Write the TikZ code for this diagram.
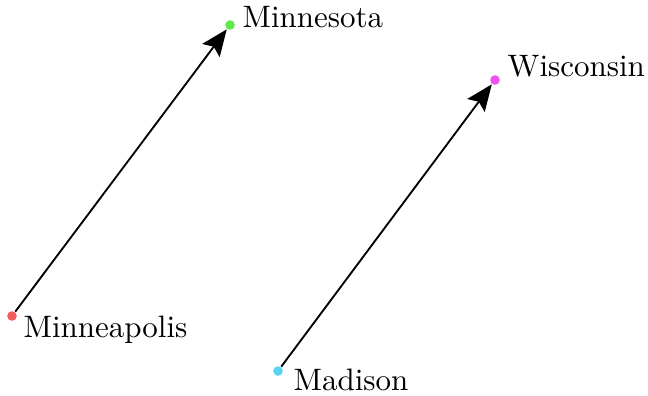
\documentclass[tikz,border=0pt]{standalone}
\usetikzlibrary{arrows.meta}
\definecolor{cred}{RGB}{242,92,92}
\definecolor{cgreen}{RGB}{98,232,78}
\definecolor{ccyan}{RGB}{88,212,242}
\definecolor{cmag}{RGB}{240,82,238}
\begin{document}
\begin{tikzpicture}[x=0.3226pt,y=-0.3226pt,
  place/.style={circle,inner sep=0pt,minimum size=3.1pt},
  lbl/.style={anchor=base west,inner sep=0pt,font=\fontsize{10}{12}\selectfont},
  conn/.style={line width=0.6pt,-{Stealth[length=8.5pt,width=7pt,inset=1.5pt]}}]
\useasboundingbox (0,0) rectangle (648,396);
\node[place,fill=cred] (mpls) at (12,316) {};
\node[place,fill=cgreen] (mn) at (230,25) {};
\node[place,fill=ccyan] (mad) at (278,371) {};
\node[place,fill=cmag] (wi) at (495,80) {};
\node[lbl] (lmpls) at (23,337) {Minneapolis};
\node[lbl] (lmn) at (242,28) {Minnesota};
\node[lbl] (lmad) at (293,390) {Madison};
\node[lbl] (lwi) at (507,77) {Wisconsin};
\draw[conn] (mpls) -- (mn);
\draw[conn] (mad) -- (wi);
\end{tikzpicture}
\end{document}
